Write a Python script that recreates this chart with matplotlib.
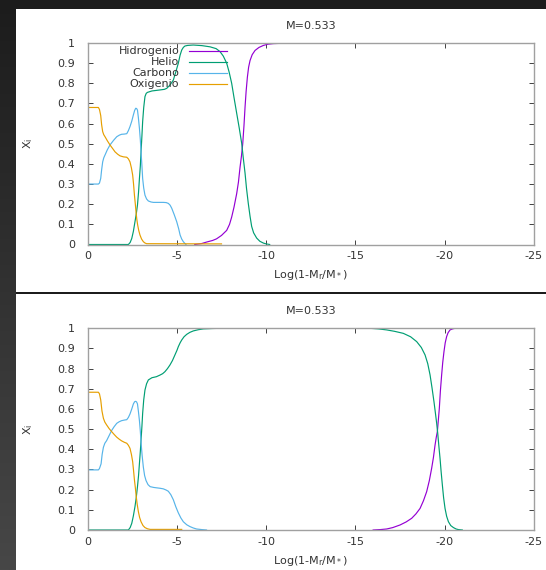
import numpy as np
import matplotlib
matplotlib.use("Agg")
import matplotlib.pyplot as plt
from matplotlib.patches import Rectangle

# ---- data read from the two profiles (x = -Log(1-Mr/M*), axis shown inverted) ----
title = "M=0.533"
names = ["Hidrogenio", "Helio", "Carbono", "Oxigenio"]
colors = ["#9400d3", "#009e73", "#56b4e9", "#e69f00"]

# panel 1
h1_x = [6.0, 6.4, 6.66, 7.0, 7.22, 7.5, 7.79, 7.95, 8.07, 8.2, 8.35, 8.45, 8.54, 8.62, 8.69, 8.76, 8.82,
        8.88, 8.95, 9.02, 9.1, 9.22, 9.38, 9.6, 9.85, 10.1, 10.41, 11.0, 11.5, 25.0]
h1_y = [0.0, 0.005, 0.012, 0.02, 0.028, 0.045, 0.07, 0.1, 0.136, 0.185, 0.252, 0.31, 0.384, 0.44, 0.5, 0.59, 0.682,
        0.76, 0.83, 0.88, 0.913, 0.942, 0.963, 0.978, 0.988, 0.994, 0.997, 0.999, 1.0, 1.0]
he1_x = [0.0, 2.28, 2.38, 2.47, 2.56, 2.65, 2.72, 2.79, 2.85, 2.9, 2.95, 2.99, 3.04, 3.08, 3.14, 3.21, 3.28,
         3.35, 3.6, 4.05, 4.3, 4.43, 4.6, 4.8, 4.95, 5.08, 5.18, 5.27, 5.36, 5.45, 5.6, 5.92, 6.4, 6.86,
         7.2, 7.42, 7.6, 7.79, 7.93, 8.07, 8.2, 8.35, 8.5, 8.63, 8.72, 8.82, 8.9, 9.0, 9.1, 9.19, 9.3,
         9.47, 9.65, 9.85, 10.0, 10.2]
he1_y = [0.0, 0.0, 0.01, 0.03, 0.065, 0.113, 0.15, 0.196, 0.26, 0.328, 0.39, 0.46, 0.54, 0.61, 0.68, 0.734, 0.75,
         0.755, 0.762, 0.767, 0.77, 0.775, 0.79, 0.816, 0.86, 0.9, 0.94, 0.965, 0.978, 0.985, 0.988, 0.99, 0.987, 0.981,
         0.972, 0.957, 0.935, 0.9, 0.855, 0.8, 0.73, 0.652, 0.575, 0.503, 0.43, 0.354, 0.28, 0.205, 0.14, 0.09, 0.058,
         0.032, 0.016, 0.007, 0.003, 0.0]
c1_x = [0.0, 0.6, 0.66, 0.73, 0.78, 0.84, 0.9, 0.97, 1.1, 1.25, 1.45, 1.63, 1.78, 1.9, 2.05, 2.19, 2.28,
        2.37, 2.47, 2.56, 2.63, 2.69, 2.74, 2.79, 2.84, 2.9, 2.95, 2.99, 3.04, 3.08, 3.14, 3.21, 3.3,
        3.4, 3.55, 3.68, 4.24, 4.4, 4.52, 4.62, 4.71, 4.85, 4.99, 5.1, 5.18, 5.27, 5.36, 5.44, 5.51]
c1_y = [0.3, 0.3, 0.305, 0.328, 0.37, 0.41, 0.43, 0.444, 0.47, 0.494, 0.517, 0.535, 0.543, 0.547, 0.548, 0.55, 0.565,
        0.585, 0.612, 0.643, 0.665, 0.676, 0.675, 0.667, 0.63, 0.576, 0.52, 0.46, 0.39, 0.328, 0.28, 0.245, 0.226,
        0.216, 0.211, 0.209, 0.209, 0.208, 0.204, 0.195, 0.18, 0.148, 0.113, 0.078, 0.047, 0.027, 0.014, 0.006, 0.0]
o1_x = [0.0, 0.6, 0.66, 0.73, 0.78, 0.84, 0.9, 0.97, 1.1, 1.25, 1.4, 1.53, 1.68, 1.81, 2.0, 2.19, 2.28,
        2.37, 2.45, 2.52, 2.57, 2.62, 2.67, 2.71, 2.75, 2.8, 2.86, 2.93, 3.02, 3.12, 3.2, 3.3, 7.5]
o1_y = [0.68, 0.68, 0.67, 0.64, 0.595, 0.56, 0.545, 0.535, 0.515, 0.494, 0.476, 0.46, 0.448, 0.44, 0.435, 0.433, 0.425,
        0.41, 0.38, 0.345, 0.3, 0.245, 0.2, 0.16, 0.127, 0.097, 0.07, 0.047, 0.027, 0.014, 0.008, 0.004, 0.003]

# panel 2
h2_x = [16.0, 16.4, 16.76, 17.1, 17.51, 17.85, 18.16, 18.4, 18.63, 18.82, 19.0, 19.15, 19.28, 19.38, 19.47,
        19.54, 19.6, 19.65, 19.71, 19.77, 19.84, 19.9, 19.97, 20.04, 20.12, 20.2, 20.31, 20.45, 20.59, 25.0]
h2_y = [0.0, 0.002, 0.005, 0.012, 0.025, 0.04, 0.058, 0.08, 0.107, 0.145, 0.19, 0.245, 0.306, 0.36, 0.421,
        0.46, 0.488, 0.54, 0.603, 0.69, 0.769, 0.83, 0.884, 0.928, 0.959, 0.978, 0.992, 0.997, 1.0, 1.0]
he2_x = [0.0, 2.28, 2.38, 2.47, 2.56, 2.65, 2.72, 2.79, 2.85, 2.9, 2.95, 2.99, 3.04, 3.08, 3.14, 3.21, 3.3,
         3.4, 3.6, 3.85, 4.05, 4.2, 4.33, 4.47, 4.61, 4.75, 4.89, 5.0, 5.08, 5.18, 5.27, 5.4, 5.55, 5.73,
         5.92, 6.2, 6.48, 7.0, 7.42, 15.82, 16.3, 16.76, 17.2, 17.69, 18.1, 18.44, 18.7, 18.91, 19.06, 19.19,
         19.3, 19.41, 19.49, 19.56, 19.62, 19.68, 19.75, 19.81, 19.88, 19.95, 20.03, 20.12, 20.22, 20.35,
         20.5, 20.65, 20.78, 21.0]
he2_y = [0.0, 0.0, 0.012, 0.033, 0.07, 0.116, 0.16, 0.215, 0.27, 0.33, 0.39, 0.446, 0.515, 0.578, 0.645, 0.694, 0.725,
         0.744, 0.755, 0.76, 0.768, 0.775, 0.785, 0.8, 0.818, 0.84, 0.868, 0.89, 0.909, 0.928, 0.942, 0.958, 0.97, 0.98,
         0.987, 0.993, 0.997, 0.999, 1.0, 1.0, 0.997, 0.992, 0.985, 0.975, 0.958, 0.934, 0.905, 0.868, 0.825, 0.769,
         0.705, 0.636, 0.58, 0.53, 0.48, 0.42, 0.355, 0.29, 0.223, 0.16, 0.107, 0.068, 0.041, 0.022,
         0.012, 0.005, 0.002, 0.0]
c2_x = [0.0, 0.6, 0.66, 0.75, 0.81, 0.88, 0.96, 1.06, 1.2, 1.34, 1.48, 1.63, 1.77, 1.9, 2.05, 2.19, 2.28,
        2.37, 2.47, 2.56, 2.63, 2.69, 2.74, 2.79, 2.84, 2.9, 2.95, 2.99, 3.05, 3.12, 3.19, 3.27, 3.38, 3.5,
        3.7, 3.87, 4.05, 4.24, 4.4, 4.52, 4.66, 4.8, 4.94, 5.08, 5.22, 5.36, 5.55, 5.73, 5.92, 6.1, 6.4, 6.66]
c2_y = [0.298, 0.298, 0.305, 0.328, 0.375, 0.41, 0.43, 0.443, 0.468, 0.493, 0.512, 0.529, 0.537, 0.542, 0.545, 0.547, 0.558,
        0.575, 0.6, 0.625, 0.636, 0.638, 0.635, 0.625, 0.59, 0.542, 0.49, 0.435, 0.37, 0.311, 0.27, 0.245, 0.225, 0.215,
        0.211, 0.209, 0.207, 0.204, 0.198, 0.192, 0.175, 0.15, 0.115, 0.085, 0.06, 0.041, 0.026, 0.017, 0.01, 0.005, 0.002, 0.0]
o2_x = [0.0, 0.6, 0.66, 0.73, 0.8, 0.88, 0.96, 1.06, 1.2, 1.34, 1.5, 1.63, 1.77, 1.9, 2.05, 2.19, 2.28,
        2.37, 2.45, 2.52, 2.57, 2.62, 2.67, 2.71, 2.77, 2.84, 2.91, 2.99, 3.1, 3.21, 3.35, 3.5, 5.27]
o2_y = [0.683, 0.683, 0.675, 0.645, 0.59, 0.554, 0.535, 0.521, 0.503, 0.488, 0.472, 0.46, 0.45, 0.442, 0.435, 0.43, 0.42,
        0.405, 0.375, 0.339, 0.295, 0.248, 0.21, 0.174, 0.13, 0.091, 0.062, 0.041, 0.022, 0.012, 0.006, 0.003, 0.003]

xticks = [0, -5, -10, -15, -20, -25]
yticks = [0, 0.1, 0.2, 0.3, 0.4, 0.5, 0.6, 0.7, 0.8, 0.9, 1]
ytick_labels = ["0", "0.1", "0.2", "0.3", "0.4", "0.5", "0.6", "0.7", "0.8", "0.9", "1"]

panels = [
    [(h1_x, h1_y), (he1_x, he1_y), (c1_x, c1_y), (o1_x, o1_y)],
    [(h2_x, h2_y), (he2_x, he2_y), (c2_x, c2_y), (o2_x, o2_y)],
]

W, H = 546, 570
fig = plt.figure(figsize=(W / 100, H / 100), dpi=100, facecolor="#1c1c1c")

# left strip gradient of the screenshot
bg = fig.add_axes([0, 0, 16 / W, 1])
grad = np.linspace(0, 1, 256).reshape(-1, 1)
bg.imshow(grad, aspect="auto", cmap=matplotlib.colors.LinearSegmentedColormap.from_list("g", ["#1c1c1c", "#474747"]),
          extent=[0, 1, 0, 1], origin="upper")
bg.axis("off")

# white panels
fig.patches.append(Rectangle((16 / W, (H - 292) / H), 1, (292 - 9) / H, transform=fig.transFigure,
                             facecolor="white", edgecolor="none", zorder=-1))
fig.patches.append(Rectangle((16 / W, 0), 1, (H - 294) / H, transform=fig.transFigure,
                             facecolor="white", edgecolor="none", zorder=-1))

txt = "#333333"
fs = 8
axes_pos = [[87.7 / W, (H - 244.5) / H, 446 / W, 201.5 / H],
            [87.7 / W, (H - 530) / H, 446 / W, 201.7 / H]]

for k, series in enumerate(panels):
    ax = fig.add_axes(axes_pos[k])
    for (xs, ys), c in zip(series, colors):
        ax.plot(-np.array(xs), ys, color=c, lw=0.85)
    ax.set_xlim(0, -25)
    ax.set_ylim(0, 1)
    ax.set_xticks(xticks)
    ax.set_xticklabels([str(t) for t in xticks])
    ax.set_yticks(yticks)
    ax.set_yticklabels(ytick_labels)
    ax.tick_params(direction="in", top=True, right=True, length=3.5, width=0.6, color="#222222",
                   labelsize=fs, labelcolor=txt)
    ax.tick_params(axis="x", pad=5)
    ax.tick_params(axis="y", pad=9)
    for s in ax.spines.values():
        s.set_color("#a0a0a0")
        s.set_linewidth(1.0)
    ax.set_title(title, fontsize=fs, color=txt, pad=10)
    ax.set_xlabel(r"Log(1-M$_\mathrm{r}$/M$_*$)", fontsize=fs, color=txt, labelpad=5)
    ax.set_ylabel(r"X$_\mathrm{i}$", fontsize=fs, color=txt, labelpad=16)

    if k == 0:
        ly = [0.962, 0.906, 0.853, 0.796]
        for name, c, yy in zip(names, colors, ly):
            ax.text(0.205, yy, name, transform=ax.transAxes, ha="right", va="center",
                    fontsize=fs, color=txt)
            ax.plot([0.227, 0.312], [yy, yy], transform=ax.transAxes, color=c, lw=0.85)

fig.savefig("out.png", dpi=100, facecolor=fig.get_facecolor())
